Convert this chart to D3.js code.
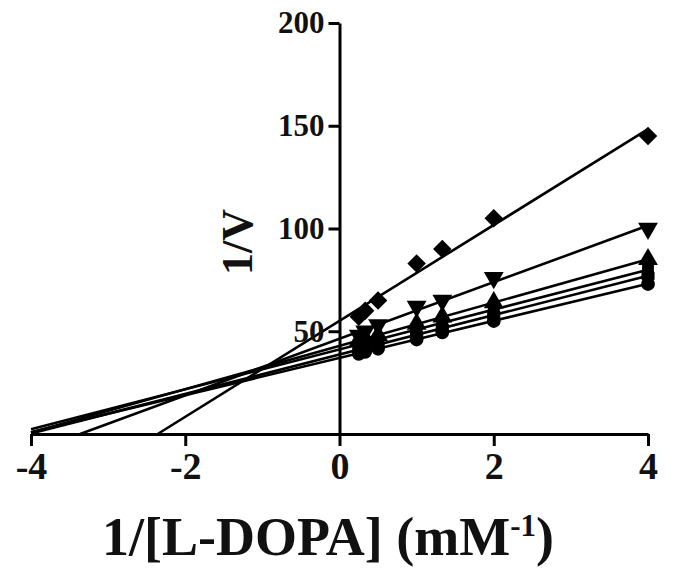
<!DOCTYPE html>
<html>
<head>
<meta charset="utf-8">
<script src="https://cdn.jsdelivr.net/npm/d3@7"></script>
<style>
  body { margin: 0; background: #fff; }
  svg text { font-family: "Liberation Serif", "DejaVu Serif", serif; font-weight: bold; fill: #111; }
</style>
</head>
<body>
<svg id="chart" width="674" height="568"></svg>
<script>
// 1/[S] values (mM^-1) and 1/V for each inhibitor level
const invS = [0.25, 0.333, 0.5, 1, 1.333, 2, 4];
const diamondVals = [57, 60, 65, 83, 90, 105, 145];
const triDownVals = [48, 50, 53, 62, 65, 76, 100];
const triUpVals   = [45.5, 46.5, 48, 53.5, 57, 64, 85];
const squareVals  = [43.5, 44.5, 46, 51, 54, 60.5, 80];
const hexVals     = [41, 42, 43.5, 48, 51.5, 58, 77];
const circleVals  = [39, 40, 41.5, 46, 49.5, 55, 73];
const xTicks = [-4, -2, 0, 2, 4];
const yTicks = [50, 100, 150, 200];

const hexagon = {
  draw(ctx, size) {
    const r = Math.sqrt(size / 2.598);
    for (let i = 0; i < 6; i++) {
      const a = Math.PI / 6 + i * Math.PI / 3;
      if (i === 0) ctx.moveTo(r * Math.cos(a), r * Math.sin(a));
      else ctx.lineTo(r * Math.cos(a), r * Math.sin(a));
    }
    ctx.closePath();
  }
};

const series = [
  { name: "diamond", vals: diamondVals, sym: d3.symbolSquare, size: 170, rot: 45 },
  { name: "triDown", vals: triDownVals, sym: d3.symbolTriangle, size: 170, rot: 180 },
  { name: "triUp", vals: triUpVals, sym: d3.symbolTriangle, size: 170, rot: 0 },
  { name: "square", vals: squareVals, sym: d3.symbolSquare, size: 140, rot: 0 },
  { name: "hex", vals: hexVals, sym: hexagon, size: 150, rot: 0 },
  { name: "circle", vals: circleVals, sym: d3.symbolCircle, size: 150, rot: 0 }
];

// least squares fit
function fit(xs, ys) {
  const mx = d3.mean(xs), my = d3.mean(ys);
  let sxy = 0, sxx = 0;
  xs.forEach((x, i) => { sxy += (x - mx) * (ys[i] - my); sxx += (x - mx) * (x - mx); });
  const m = sxy / sxx;
  return { m: m, b: my - m * mx };
}

const svg = d3.select("#chart");
const x = d3.scaleLinear().domain([-4, 4]).range([31, 648]);
const y = d3.scaleLinear().domain([0, 200]).range([434, 23]);

// regression lines, from x-intercept (or -4) to 4
series.forEach(s => {
  const f = fit(invS, s.vals);
  const x0 = Math.max(-4, -f.b / f.m);
  svg.append("line")
    .attr("x1", x(x0)).attr("y1", y(f.m * x0 + f.b))
    .attr("x2", x(4)).attr("y2", y(f.m * 4 + f.b))
    .attr("stroke", "#000")
    .attr("stroke-width", 2.6);
});

// axes
const xAxis = svg.append("g")
  .attr("transform", "translate(0," + y(0) + ")")
  .call(d3.axisBottom(x).tickValues(xTicks).tickFormat(d => String(d))
    .tickSize(12).tickSizeOuter(0).tickPadding(6));
xAxis.selectAll("text").style("font-size", "38px");

const yAxis = svg.append("g")
  .attr("transform", "translate(" + x(0) + ",0)")
  .call(d3.axisLeft(y).tickValues(yTicks).tickSize(11).tickSizeOuter(0).tickPadding(4));
yAxis.selectAll("text").style("font-size", "31px");

svg.selectAll(".domain, .tick line")
  .attr("stroke", "#000")
  .attr("stroke-width", 3);

// markers
series.forEach(s => {
  svg.selectAll(".pt-" + s.name)
    .data(invS.map((v, i) => [v, s.vals[i]]))
    .enter().append("path")
    .attr("class", "pt-" + s.name)
    .attr("d", d3.symbol().type(s.sym).size(s.size))
    .attr("transform", d => "translate(" + x(d[0]) + "," + y(d[1]) + ") rotate(" + s.rot + ")")
    .attr("fill", "#000");
});

// axis titles
const xt = svg.append("text")
  .attr("x", 328).attr("y", 555)
  .attr("text-anchor", "middle")
  .style("font-size", "54px");
xt.append("tspan").text("1/[L-DOPA] (mM");
xt.append("tspan").attr("dy", -19).style("font-size", "31px").text("-1");
xt.append("tspan").attr("dy", 19).text(")");

svg.append("text")
  .attr("transform", "translate(252,242) rotate(-90)")
  .attr("text-anchor", "middle")
  .style("font-size", "44px")
  .text("1/V");
</script>
</body>
</html>
